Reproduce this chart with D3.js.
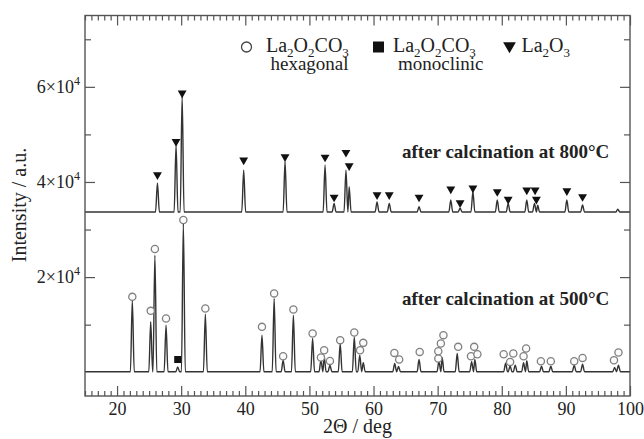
<!DOCTYPE html>
<html>
<head>
<meta charset="utf-8">
<script src="https://cdn.jsdelivr.net/npm/d3@7"></script>
<style>
body { margin: 0; background: #fff; }
svg text { font-family: "Liberation Serif", "Times New Roman", serif; fill: #222; }
</style>
</head>
<body>
<div id="chart"></div>
<script>
// XRD peaks: [2theta (deg), intensity at peak top]
const base800 = 33700;
const peaks800 = [[26.3, 39800], [29.2, 47800], [30.15, 58100], [39.75, 42500], [46.2, 44300],
    [52.44, 43600], [53.85, 35500], [55.7, 42500], [56.2, 39000], [60.55, 35800], [62.45, 35500],
    [67.1, 34800], [72.05, 36200], [73.5, 34500], [75.5, 37950], [79.3, 36200], [81.0, 35500],
    [83.9, 36200], [85.1, 35500], [85.6, 35100], [90.15, 36200], [92.6, 35150], [98.1, 34250]];
// La2O3 markers (triangles) above the 800 C pattern
const triangles800 = [[26.3, 41500], [29.2, 48500], [30.15, 58700], [39.75, 44600], [46.2, 45300],
    [52.44, 45200], [53.85, 36800], [55.7, 46200], [56.2, 43400], [60.55, 37300], [62.45, 37300],
    [67.1, 36800], [72.05, 38500], [73.5, 35600], [75.5, 38700], [79.3, 37950], [81.0, 36350],
    [83.9, 38300], [85.2, 38300], [85.4, 36350], [90.15, 38150], [92.6, 36900]];

const base500 = 100;
const peaks500 = [[22.38, 15150], [25.25, 10600], [25.9, 24600], [27.64, 9900], [29.46, 1100],
    [30.34, 31300], [33.77, 12200], [42.6, 7800], [44.5, 15500], [45.9, 2550], [47.5, 12000],
    [50.5, 7100], [51.8, 2550], [52.3, 3370], [53.2, 1470], [54.8, 6040], [57.0, 7430],
    [57.85, 3580], [58.4, 2000], [63.3, 1830], [63.9, 1200], [67.1, 2670], [70.2, 2300],
    [70.7, 3100], [73.05, 3940], [75.3, 2200], [75.8, 2700], [80.6, 1900], [81.3, 1300],
    [82.1, 1500], [83.4, 2000], [83.9, 2400], [86.2, 1260], [87.65, 1260], [91.3, 1470],
    [92.6, 1680], [97.6, 1000], [98.2, 1470]];
// hexagonal La2O2CO3 markers (circles) and monoclinic one (square)
const circles500 = [[22.38, 15850], [25.25, 12900], [25.9, 25900], [27.64, 11300], [30.34, 32000],
    [33.77, 13400], [42.6, 9540], [44.5, 16570], [45.9, 3370], [47.5, 13200], [50.5, 8150],
    [51.8, 3100], [52.3, 4630], [53.2, 2380], [54.8, 6740], [57.0, 8360], [57.9, 4630],
    [58.4, 6170], [63.25, 4060], [64.0, 2670], [67.2, 4270], [70.1, 2880], [70.1, 4420],
    [70.5, 6040], [70.9, 7790], [73.2, 5330], [75.2, 3370], [75.7, 5330], [76.2, 3790],
    [80.3, 3790], [81.3, 2170], [81.8, 3940], [83.4, 3370], [83.8, 4990], [86.1, 2320],
    [87.65, 2320], [91.3, 2320], [92.6, 3010], [97.5, 2530], [98.2, 4150]];
const squares500 = [[29.46, 2670]];

const xMajorTicks = [20, 30, 40, 50, 60, 70, 80, 90, 100];
const yMajorTicks = [20000, 40000, 60000];
const yMinorTicks = [10000, 30000, 50000, 70000];

function drawChart() {
    const W = 644, H = 439;
    const left = 85, right = 630, top = 15.5, bottom = 396;

    const svg = d3.select("#chart").append("svg")
        .attr("width", W)
        .attr("height", H)
        .style("background", "#fff");

    const x = d3.scaleLinear().domain([15, 100]).range([left, right]);
    const y = d3.scaleLinear().domain([-5000, 75000]).range([bottom, top]);

    // vertices of the pattern: each peak is a narrow spike on the baseline
    function profile(peaks, base, hw) {
        const pts = [[15, base]];
        peaks.forEach(([a, h]) => {
            [[a - hw, base], [a, h], [a + hw, base]].forEach(p => {
                if (p[0] > pts[pts.length - 1][0]) pts.push(p);
            });
        });
        pts.push([100, base]);
        return pts;
    }

    const line = d3.line()
        .x(d => x(d[0]))
        .y(d => y(d[1]))
        .curve(d3.curveMonotoneX);

    [[peaks800, base800], [peaks500, base500]].forEach(([pk, b]) => {
        svg.append("path")
            .datum(profile(pk, b, 0.3))
            .attr("d", line)
            .attr("fill", "none")
            .attr("stroke", "#333")
            .attr("stroke-width", 1.4);
    });

    // markers
    const tri = d3.symbol(d3.symbolTriangle, 34);
    svg.selectAll(".tri").data(triangles800).join("path")
        .attr("class", "tri")
        .attr("d", tri)
        .attr("transform", d => `translate(${x(d[0])},${y(d[1])}) rotate(180)`)
        .attr("fill", "#111");

    svg.selectAll(".circ").data(circles500).join("circle")
        .attr("class", "circ")
        .attr("cx", d => x(d[0]))
        .attr("cy", d => y(d[1]))
        .attr("r", 3.6)
        .attr("fill", "#fbfbfb")
        .attr("stroke", "#808080")
        .attr("stroke-width", 1.3);

    svg.selectAll(".sq").data(squares500).join("rect")
        .attr("class", "sq")
        .attr("x", d => x(d[0]) - 3.5)
        .attr("y", d => y(d[1]) - 3.5)
        .attr("width", 7)
        .attr("height", 7)
        .attr("fill", "#111");

    // axes (ticks point inwards)
    const xMinor = d3.range(15, 101).filter(v => v % 10 !== 0);
    const axisColor = "#555";

    function styleAxis(sel) {
        sel.select(".domain").remove();
        sel.selectAll("line").attr("stroke", axisColor).attr("stroke-width", 1.2);
        sel.selectAll("text")
            .style("font-family", "'Liberation Serif', 'Times New Roman', serif")
            .style("font-size", "18px")
            .attr("fill", "#222");
    }

    svg.append("g").attr("transform", `translate(0,${bottom})`)
        .call(d3.axisBottom(x).tickValues(xMajorTicks).tickSize(-10).tickPadding(6).tickFormat(d3.format("d")))
        .call(styleAxis);
    svg.append("g").attr("transform", `translate(0,${bottom})`)
        .call(d3.axisBottom(x).tickValues(xMinor).tickSize(-5).tickFormat(""))
        .call(styleAxis);
    svg.append("g").attr("transform", `translate(0,${top})`)
        .call(d3.axisTop(x).tickValues(xMajorTicks).tickSize(-10).tickFormat(""))
        .call(styleAxis);
    svg.append("g").attr("transform", `translate(0,${top})`)
        .call(d3.axisTop(x).tickValues(xMinor).tickSize(-5).tickFormat(""))
        .call(styleAxis);

    svg.append("g").attr("transform", `translate(${left},0)`)
        .call(d3.axisLeft(y).tickValues(yMajorTicks).tickSize(-10).tickFormat(""))
        .call(styleAxis);
    svg.append("g").attr("transform", `translate(${left},0)`)
        .call(d3.axisLeft(y).tickValues(yMinorTicks).tickSize(-6).tickFormat(""))
        .call(styleAxis);
    svg.append("g").attr("transform", `translate(${right},0)`)
        .call(d3.axisRight(y).tickValues(yMajorTicks).tickSize(-10).tickFormat(""))
        .call(styleAxis);
    svg.append("g").attr("transform", `translate(${right},0)`)
        .call(d3.axisRight(y).tickValues(yMinorTicks).tickSize(-6).tickFormat(""))
        .call(styleAxis);

    // y tick labels like 4×10^4
    yMajorTicks.forEach(v => {
        const t = svg.append("text")
            .attr("x", left - 5)
            .attr("y", y(v) + 6)
            .attr("text-anchor", "end")
            .style("font-size", "18px");
        t.append("tspan").text(`${v / 10000}\u00d710`);
        t.append("tspan").attr("dy", -8).style("font-size", "12px").text("4");
    });

    // frame
    svg.append("rect")
        .attr("x", left)
        .attr("y", top)
        .attr("width", right - left)
        .attr("height", bottom - top)
        .attr("fill", "none")
        .attr("stroke", axisColor)
        .attr("stroke-width", 1.4);

    // axis titles
    svg.append("text")
        .attr("x", (left + right) / 2)
        .attr("y", 433)
        .attr("text-anchor", "middle")
        .style("font-size", "20px")
        .text("2\u0398 / deg");

    svg.append("text")
        .attr("transform", "translate(26,205) rotate(-90)")
        .attr("text-anchor", "middle")
        .style("font-size", "20px")
        .text("Intensity / a.u.");

    // chemical formula with subscripts, written as "La_2O_2CO_3"
    function formula(sel, str) {
        let shifted = false;
        str.split(/(_\d)/).filter(s => s).forEach(part => {
            if (part[0] === "_") {
                sel.append("tspan").attr("dy", 5).style("font-size", "13px").text(part.slice(1));
                shifted = true;
            } else {
                sel.append("tspan").attr("dy", shifted ? -5 : 0).text(part);
                shifted = false;
            }
        });
    }

    // legend
    svg.append("circle")
        .attr("cx", 246.5).attr("cy", 47)
        .attr("r", 5)
        .attr("fill", "#fff")
        .attr("stroke", "#444")
        .attr("stroke-width", 1.3);
    svg.append("rect")
        .attr("x", 373).attr("y", 41.5)
        .attr("width", 11).attr("height", 11)
        .attr("fill", "#111");
    svg.append("path")
        .attr("d", d3.symbol(d3.symbolTriangle, 70)())
        .attr("transform", "translate(509.5,46) rotate(180)")
        .attr("fill", "#111");

    [["La_2O_2CO_3", 266], ["La_2O_2CO_3", 393], ["La_2O_3", 521.5]].forEach(([s, px]) => {
        const t = svg.append("text").attr("x", px).attr("y", 52).style("font-size", "20px");
        formula(t, s);
    });
    svg.append("text").attr("x", 270.5).attr("y", 70).style("font-size", "19px").text("hexagonal");
    svg.append("text").attr("x", 398).attr("y", 70).style("font-size", "19px").text("monoclinic");

    // pattern labels
    svg.append("text").attr("x", 402).attr("y", 158)
        .style("font-size", "19px").style("font-weight", "bold")
        .text("after calcination at 800\u00b0C");
    svg.append("text").attr("x", 402).attr("y", 305)
        .style("font-size", "19px").style("font-weight", "bold")
        .text("after calcination at 500\u00b0C");
}

drawChart();
</script>
</body>
</html>
